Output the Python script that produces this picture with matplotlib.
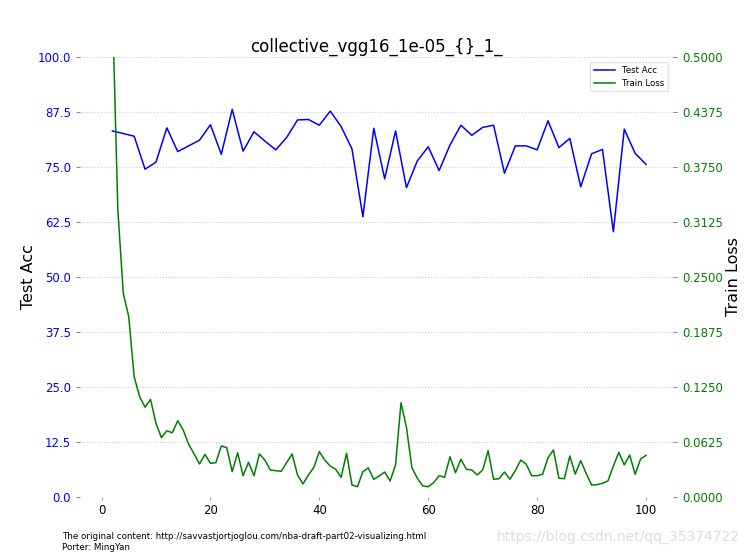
import matplotlib
matplotlib.use("Agg")
import matplotlib.pyplot as plt
from matplotlib.ticker import FormatStrFormatter
import numpy as np

title = "collective_vgg16_1e-05_{}_1_"

acc_epochs = list(range(2, 101, 2))
test_acc = [83.2, 82.6, 82.0, 74.5, 76.1, 83.9, 78.5, 79.8, 81.1, 84.6,
            77.9, 88.1, 78.6, 83.0, 80.9, 78.9, 81.7, 85.7, 85.8, 84.5,
            87.7, 84.2, 79.1, 63.7, 83.8, 72.3, 83.2, 70.3, 76.4, 79.6,
            74.2, 80.0, 84.5, 82.2, 84.0, 84.5, 73.6, 79.8, 79.8, 78.9,
            85.5, 79.4, 81.5, 70.5, 78.0, 79.0, 60.3, 83.6, 78.1, 75.6]

loss_epochs = list(range(1, 101))
train_loss = [1.2, 0.56, 0.326, 0.2315, 0.205, 0.1367, 0.114, 0.102, 0.111, 0.0838,
              0.0674, 0.0753, 0.073, 0.0867, 0.0761, 0.060, 0.049, 0.0375, 0.0485, 0.0383,
              0.039, 0.058, 0.056, 0.0288, 0.0503, 0.0242, 0.0394, 0.0242, 0.0489, 0.042,
              0.0307, 0.0299, 0.0292, 0.039, 0.0489, 0.025, 0.0148, 0.025, 0.0338, 0.0515,
              0.042, 0.0352, 0.0315, 0.0224, 0.0497, 0.0136, 0.0117, 0.0288, 0.033, 0.0201,
              0.0239, 0.0284, 0.0182, 0.0364, 0.1072, 0.0792, 0.0333, 0.0213, 0.0125, 0.0117,
              0.0163, 0.0242, 0.0224, 0.0458, 0.0276, 0.0428, 0.0315, 0.0307, 0.025, 0.0307,
              0.0526, 0.0201, 0.0208, 0.0284, 0.0201, 0.0299, 0.042, 0.0372, 0.0242, 0.0242,
              0.0258, 0.0447, 0.0534, 0.0213, 0.0208, 0.0466, 0.0261, 0.0413, 0.0269, 0.0136,
              0.014, 0.0156, 0.0182, 0.0352, 0.0508, 0.0364, 0.0477, 0.0258, 0.0432, 0.0474]

acc_ticks = [0, 12.5, 25, 37.5, 50, 62.5, 75, 87.5, 100]
loss_ticks = [0, 0.0625, 0.125, 0.1875, 0.25, 0.3125, 0.375, 0.4375, 0.5]
x_ticks = [0, 20, 40, 60, 80, 100]

footer = "The original content: http://savvastjortjoglou.com/nba-draft-part02-visualizing.html\nPorter: MingYan"
watermark = "https://blog.csdn.net/qq_35374722"

fig = plt.figure(figsize=(7.46, 5.55), dpi=100)
ax = fig.add_axes([80/746, 1-497/555, 593/746, 440/555])
ax2 = ax.twinx()

l1, = ax.plot(acc_epochs, test_acc, color="blue", lw=1.1, label="Test Acc")
l2, = ax2.plot(loss_epochs, train_loss, color="green", lw=1.1, label="Train Loss")

ax.set_ylim(0, 100)
ax2.set_ylim(0, 0.5)
ax.set_yticks(acc_ticks)
ax2.set_yticks(loss_ticks)
ax.set_xticks(x_ticks)
ax.yaxis.set_major_formatter(FormatStrFormatter("%.1f"))
ax2.yaxis.set_major_formatter(FormatStrFormatter("%.4f"))

for a in (ax, ax2):
    for s in a.spines.values():
        s.set_visible(False)

ax.tick_params(axis="y", colors="#888888", labelcolor="blue", labelsize=8.5, length=3, width=0.8)
ax2.tick_params(axis="y", colors="#888888", labelcolor="green", labelsize=8.5, length=3, width=0.8)
ax.tick_params(axis="x", colors="#888888", labelcolor="black", labelsize=8.5, length=2, width=0.6, pad=3)

ax.yaxis.grid(True, linestyle=":", color="#cccccc", lw=0.8)
ax.set_axisbelow(True)
ax.yaxis.get_gridlines()[0].set_visible(False)

ax.set_ylabel("Test Acc", fontsize=11.5, labelpad=1.5)
ax2.set_ylabel("Train Loss", fontsize=11.5, labelpad=2.2)
ax.set_title(title, fontsize=12, pad=4)

ax2.legend([l1, l2], ["Test Acc", "Train Loss"], loc="upper right", fontsize=6.2,
           frameon=True, edgecolor="#dddddd", borderaxespad=0.6, handlelength=2.5)

fig.text(62/746, 1-542/555, footer, fontsize=6.3, va="center", ha="left", linespacing=1.2)
fig.text(740/746, 1-537/555, watermark, fontsize=10, color="#dcdcdc", ha="right", va="center")

fig.savefig("out.png", dpi=100)
